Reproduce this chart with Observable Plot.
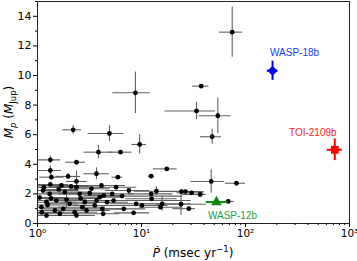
<!DOCTYPE html>
<html><head><meta charset="utf-8">
<script src="https://cdn.jsdelivr.net/npm/d3@7"></script>
<script src="https://cdn.jsdelivr.net/npm/@observablehq/plot@0.6"></script>
<style>body{margin:0;background:#fff;}</style>
</head><body><div id="chart"></div>
<script>
// Orbital decay rate (msec/yr) vs planet mass (M_Jup)
const pdot = [74.5,37.5,8.75,33.8,54.2,47.8,9.6,2.2,4.92,3.86,6.28,1.33,2.37,1.33,1.36,1.97,3.69,5.92,12.4,17.5,46.8,81.9,24.2,26.5,30.3,36.6,24.0,28.5,68.2,
  1.33,1.7,2.37,1.13,1.31,1.83,2.55,3.18,3.97,1.22,1.52,2.04,2.85,3.56,1.09,1.47,1.77,2.28,2.96,1.22,1.64,2.37,4.28,3.69,4.12,2.37,5.7,7.57,12.4,13.9,
  4.34,5.23,6.5,12.5,8.9,10.1,15.8,15.2,8.4,6.75,4.2,4.67,5.4,1.05,1.15,1.1,1.25,1.9,2.6,3.3,1.6,2.1,1.35,2.7];
const mass = [12.93,9.28,8.83,7.6,7.28,5.86,5.34,6.33,6.08,4.82,4.82,4.30,4.14,3.58,3.13,3.18,3.36,3.13,3.2,3.69,2.84,2.72,2.16,2.16,2.07,1.96,1.30,1.0,1.49,
  2.64,2.57,2.45,2.23,2.0,2.12,2.0,2.05,1.78,1.44,1.55,1.33,1.44,1.22,1.1,0.88,0.99,0.76,0.88,0.54,0.66,0.54,0.66,1.55,2.57,2.84,2.45,2.23,2.0,2.18,
  1.89,2.0,1.85,1.67,1.33,1.22,1.33,1.1,0.72,0.99,0.99,1.44,1.55,1.75,2.45,0.75,1.25,1.6,1.7,2.35,2.3,2.5,1.7,1.1];
const pdotLo = [56,31,5.3,16.8,35.6,36.9,8.1,1.75,3.07,2.8,4.9,0.7,1.87,0.7,1.05,1.5,2.8,5.2,11.6,13,30,64,15,20,22,25,14,20,60,
  0.6,0.8,0.7,0.6,0.5,1.2,1.6,2.0,2.5,0.6,0.7,1.2,1.7,2.2,0.6,0.7,1.1,1.4,1.8,0.6,0.8,1.5,2.8,2.4,2.6,1.9,3.5,4.5,7.5,8.5,
  2.8,3.2,4.0,7.0,5.0,6.0,9.0,9.5,5.5,4.2,2.8,3.0,3.5,0.6,0.6,0.6,0.7,1.2,1.5,2.2,1.1,1.4,0.8,1.6];
const pdotHi = [94,44.5,12.2,51.5,72.8,58.8,11.2,2.65,6.76,5.3,8.1,1.67,2.89,1.7,1.8,2.6,4.9,6.6,13.3,22,63,100,40,35,40,42,42,33,78,
  2.0,2.8,4.5,2.5,3.0,3.2,4.2,5.0,6.5,2.4,3.0,3.6,4.8,6.0,2.0,2.6,3.0,3.8,5.0,2.2,2.8,3.6,6.2,6.0,7.0,3.0,9.0,12,20,25,
  7.0,8.5,25,22,15,18,30,25,12,11,6.5,7.5,30,2.0,2.0,1.8,2.5,3.0,4.0,5.0,2.5,3.2,2.4,4.5];
const massErr = [1.7,0.1,1.4,0.6,1.2,0.5,0.65,0.3,0.54,0.45,0.1,0.25,0.1,0.3,0.2,0.2,0.4,0.1,0.1,0.1,0.8,0.1,0.1,0.1,0.1,0.1,0.75,0.15,0.1,
  0.1,0.1,0.1,0.1,0.1,0.1,0.1,0.1,0.1,0.1,0.1,0.1,0.1,0.1,0.1,0.1,0.1,0.1,0.1,0.1,0.1,0.1,0.1,0.1,0.1,0.7,0.1,0.1,0.1,0.3,
  0.1,0.1,0.1,0.1,0.1,0.1,0.5,0.1,0.1,0.1,0.1,0.1,0.1,0.1,0.1,0.1,0.1,0.6,0.1,0.1,0.1,0.1,0.1,0.1];

// Highlighted planets
const hiNames = ["WASP-18b", "TOI-2109b", "WASP-12b"];
const hiPdot = [182, 722, 52.6];
const hiMass = [10.32, 4.98, 1.45];
const hiPdotLo = [162, 611, 41.9];
const hiPdotHi = [205, 851, 68.2];
const hiMassErr = [0.65, 0.73, 0.05];

const xTicks = [1, 10, 100, 1000];
const xTickLabels = ["10⁰", "10¹", "10²", "10³"];
const yTicks = [0, 2, 4, 6, 8, 10, 12, 14];

const planets = pdot.map((x, i) => ({x, y: mass[i], xlo: pdotLo[i], xhi: pdotHi[i], ylo: mass[i] - massErr[i], yhi: mass[i] + massErr[i]}));
const hi = hiNames.map((name, i) => ({name, x: hiPdot[i], y: hiMass[i], xlo: hiPdotLo[i], xhi: hiPdotHi[i], ylo: hiMass[i] - hiMassErr[i], yhi: hiMass[i] + hiMassErr[i]}));

const hiStyle = {
  "WASP-18b": {color: "#0000ff", text: "#1a3cff", symbol: "diamond2", r: 4.6, dx: 22, dy: -18},
  "TOI-2109b": {color: "#ff0000", text: "#ff1a1a", symbol: "square", r: 4.4, dx: -22, dy: -17},
  "WASP-12b": {color: "#128a12", text: "#1f9e4c", symbol: "triangle", r: 4.0, dx: 16, dy: 14}
};

const xMinor = [];
for (const e of [1, 10, 100]) for (let m = 2; m <= 9; m++) xMinor.push(m * e);
const yMinor = [1, 3, 5, 7, 9, 11, 13, 15];

const hiMarks = hi.flatMap(d => {
  const s = hiStyle[d.name];
  return [
    Plot.ruleY([d], {y: "y", x1: "xlo", x2: "xhi", stroke: s.color, strokeWidth: 2}),
    Plot.ruleX([d], {x: "x", y1: "ylo", y2: "yhi", stroke: s.color, strokeWidth: 2}),
    Plot.dot([d], {x: "x", y: "y", r: s.r, symbol: () => s.symbol, fill: s.color, stroke: "none"}),
    Plot.text([d], {x: "x", y: "y", text: "name", dx: s.dx, dy: s.dy, fill: s.text, fontSize: 10, fontFamily: "Liberation Sans, Arial, sans-serif"})
  ];
});

const chart = Plot.plot({
  width: 357, height: 261,
  marginLeft: 37, marginRight: 8, marginTop: 1, marginBottom: 38,
  style: {fontFamily: "DejaVu Sans, sans-serif", fontSize: "11px", color: "#000", background: "#fff", overflow: "visible"},
  x: {type: "log", domain: [1, 1000]},
  y: {domain: [0, 15]},
  marks: [
    Plot.ruleY(planets, {y: "y", x1: "xlo", x2: "xhi", stroke: "#606060", strokeWidth: 1.1, clip: true}),
    Plot.ruleX(planets, {x: "x", y1: "ylo", y2: "yhi", stroke: "#606060", strokeWidth: 1.1, clip: true}),
    Plot.dot(planets, {x: "x", y: "y", r: 2.4, fill: "#000", stroke: "none"}),
    ...hiMarks,
    Plot.frame({stroke: "#222", strokeWidth: 1}),
    Plot.axisX({ticks: xTicks, tickSize: 4, tickPadding: 2, tickFormat: d => xTickLabels[xTicks.indexOf(d)], label: null, fontSize: 10.5}),
    Plot.axisX({ticks: xMinor, tickSize: 2, tickFormat: () => "", label: null}),
    Plot.axisY({ticks: yTicks, tickSize: 4, tickPadding: 2, label: null, fontSize: 11}),
    Plot.axisY({ticks: yMinor, tickSize: 2, tickFormat: () => "", label: null})
  ]
});

const svg = d3.select(chart);
// x-axis label: Ṗ (msec yr⁻¹)
const xl = svg.append("text")
  .attr("x", 193).attr("y", 257).attr("text-anchor", "middle")
  .attr("font-family", "DejaVu Sans, sans-serif").attr("font-size", 12).attr("fill", "#000");
xl.append("tspan").attr("font-style", "italic").text("Ṗ");
xl.append("tspan").text(" (msec yr");
xl.append("tspan").attr("dy", -5).attr("font-size", 8.5).text("−1");
xl.append("tspan").attr("dy", 5).text(")");

// y-axis label: M_p (M_Jup)
const yl = svg.append("text")
  .attr("transform", "translate(13,112) rotate(-90)").attr("text-anchor", "middle")
  .attr("font-family", "DejaVu Sans, sans-serif").attr("font-size", 12).attr("fill", "#000");
yl.append("tspan").attr("font-style", "italic").text("M");
yl.append("tspan").attr("font-style", "italic").attr("font-size", 8.5).attr("dy", 3).text("p");
yl.append("tspan").attr("dy", -3).text(" (");
yl.append("tspan").attr("font-style", "italic").text("M");
yl.append("tspan").attr("font-size", 8.5).attr("dy", 3).text("Jup");
yl.append("tspan").attr("dy", -3).text(")");

document.getElementById("chart").appendChild(chart);
</script>
</body></html>
